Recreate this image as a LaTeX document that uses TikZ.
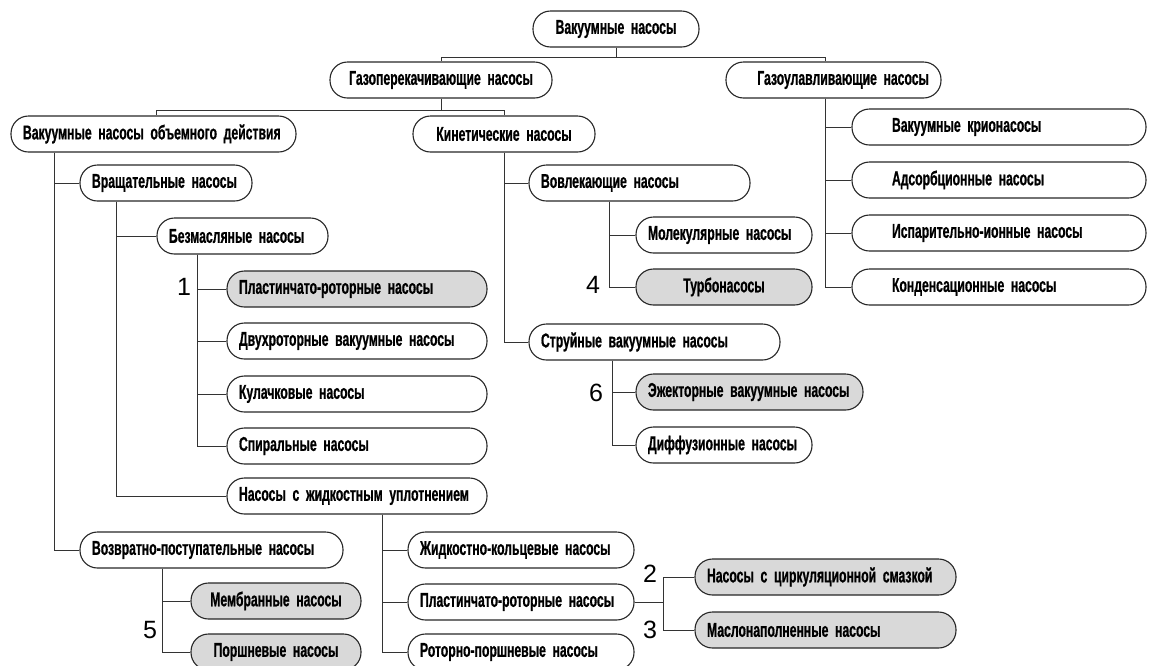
\documentclass[tikz,border=0pt]{standalone}
\usepackage{fontspec}
\setmainfont{Liberation Sans}[FakeStretch=0.61, BoldFeatures={FakeBold=0.7}]
\newfontfamily\numfont{Liberation Sans}
\newcommand\boxfont{\fontsize{20}{22}\selectfont\bfseries\spaceskip=4pt\relax}
\begin{document}
\begin{tikzpicture}[x=1pt, y=-1pt, line width=1pt,
    box/.style={draw=black!85, line width=1.1pt, rounded corners=17.5pt, minimum height=36pt, inner xsep=12pt, inner ysep=0pt, align=left, font=\boxfont},
    grey/.style={box, fill=black!15},
    lnk/.style={draw=black!80, line width=0.9pt},
    num/.style={font=\numfont\fontsize{25}{27}\selectfont}
]
\useasboundingbox (0,0) rectangle (1151,665);
% --- Верхние уровни ---
\node[box, align=center, text width=142pt] (root) at (616,29) {Вакуумные~насосы};
\node[box, align=center, text width=198pt] (gasper) at (441,80) {Газоперекачивающие~насосы};
\node[box, align=right, text width=191pt] (gasul) at (833.5,80) {Газоулавливающие~насосы};
\node[box, text width=261pt] (volum) at (153.5,134) {Вакуумные~насосы~объемного~действия};
\node[box, align=center, text width=158pt] (kinet) at (504,134) {Кинетические~насосы};
% --- Вращательные насосы ---
\node[box, text width=148pt] (vrash) at (166,183) {Вращательные~насосы};
\node[box, text width=147pt] (bezmas) at (242.5,236) {Безмасляные~насосы};
\node[grey, text width=236pt] (plast1) at (357,289) {\mbox{Пластинчато-роторные}~насосы};
\node[box, text width=236pt] (dvuh) at (357,341) {Двухроторные~вакуумные~насосы};
\node[box, text width=236pt] (kulach) at (357,394) {Кулачковые~насосы};
\node[box, text width=236pt] (spiral) at (357,446) {Спиральные~насосы};
\node[box, text width=236pt] (zhidk) at (357,496) {Насосы~с~жидкостным~уплотнением};
\node[box, text width=202pt] (zhkol) at (521,550) {\mbox{Жидкостно-кольцевые}~насосы};
\node[box, text width=202pt] (plast2) at (521,602) {\mbox{Пластинчато-роторные}~насосы};
\node[box, text width=202pt] (rotporsh) at (521,652) {\mbox{Роторно-поршневые}~насосы};
\node[grey, text width=237pt] (cirk) at (825.5,577) {Насосы~с~циркуляционной~смазкой};
\node[grey, text width=237pt] (maslo) at (825.5,630) {Маслонаполненные~насосы};
% --- Возвратно-поступательные насосы ---
\node[box, text width=239pt] (vozvr) at (211.5,550) {\mbox{Возвратно-поступательные}~насосы};
\node[grey, align=center, text width=146pt] (membr) at (276,601) {Мембранные~насосы};
\node[grey, align=center, text width=146pt] (porsh) at (276,652) {Поршневые~насосы};
% --- Кинетические насосы ---
\node[box, text width=197pt] (vovl) at (639.5,183) {Вовлекающие~насосы};
\node[box, text width=152pt] (molek) at (724,235) {Молекулярные~насосы};
\node[grey, align=center, text width=152pt] (turbo) at (724,287) {Турбонасосы};
\node[box, text width=227pt] (struy) at (654.5,342) {Струйные~вакуумные~насосы};
\node[grey, text width=203pt] (ezhek) at (749.5,392) {Эжекторные~вакуумные~насосы};
\node[box, text width=152pt] (diff) at (724,445) {Диффузионные~насосы};
% --- Газоулавливающие насосы ---
\node[box, inner xsep=40pt, text width=214pt] (krio) at (999,127) {Вакуумные~крионасосы};
\node[box, inner xsep=40pt, text width=214pt] (adsorb) at (999,180) {Адсорбционные~насосы};
\node[box, inner xsep=40pt, text width=214pt] (ispar) at (999,233) {\mbox{Испарительно-ионные}~насосы};
\node[box, inner xsep=40pt, text width=214pt] (konden) at (999,287) {Конденсационные~насосы};
% --- Номера ---
\node[num] (n1) at (184,287) {1};
\node[num] (n2) at (650,574) {2};
\node[num] (n3) at (650,630) {3};
\node[num] (n4) at (593,285) {4};
\node[num] (n5) at (150,630) {5};
\node[num] (n6) at (596,393) {6};
% --- Линии дерева ---
\draw[lnk] (root.south) -- ++(0,10) coordinate (j0) -| ([xshift=100pt]gasul.north west);
\draw[lnk] (j0) -| (gasper.north);
\draw[lnk] (gasper.south) -- ++(0,12) coordinate (j1) -| ([xshift=146pt]volum.north west);
\draw[lnk] (j1) -| (kinet.north);
\foreach \n in {vrash,vozvr} \draw[lnk] ([xshift=44pt]volum.south west) |- (\n.west);
\foreach \n in {bezmas,zhidk} \draw[lnk] ([xshift=37pt]vrash.south west) |- (\n.west);
\foreach \n in {plast1,dvuh,kulach,spiral} \draw[lnk] ([xshift=41pt]bezmas.south west) |- (\n.west);
\foreach \n in {membr,porsh} \draw[lnk] ([xshift=83pt]vozvr.south west) |- (\n.west);
\foreach \n in {zhkol,plast2,rotporsh} \draw[lnk] ([xshift=156pt]zhidk.south west) |- (\n.west);
\draw[lnk] (plast2.east) -- ++(29,0) coordinate (j2) |- (cirk.west);
\draw[lnk] (j2) |- (maslo.west);
\foreach \n in {vovl,struy} \draw[lnk] (kinet.south) |- (\n.west);
\foreach \n in {molek,turbo} \draw[lnk] ([xshift=81pt]vovl.south west) |- (\n.west);
\foreach \n in {ezhek,diff} \draw[lnk] ([xshift=84pt]struy.south west) |- (\n.west);
\foreach \n in {krio,adsorb,ispar,konden} \draw[lnk] ([xshift=100pt]gasul.south west) |- (\n.west);
\end{tikzpicture}
\end{document}
